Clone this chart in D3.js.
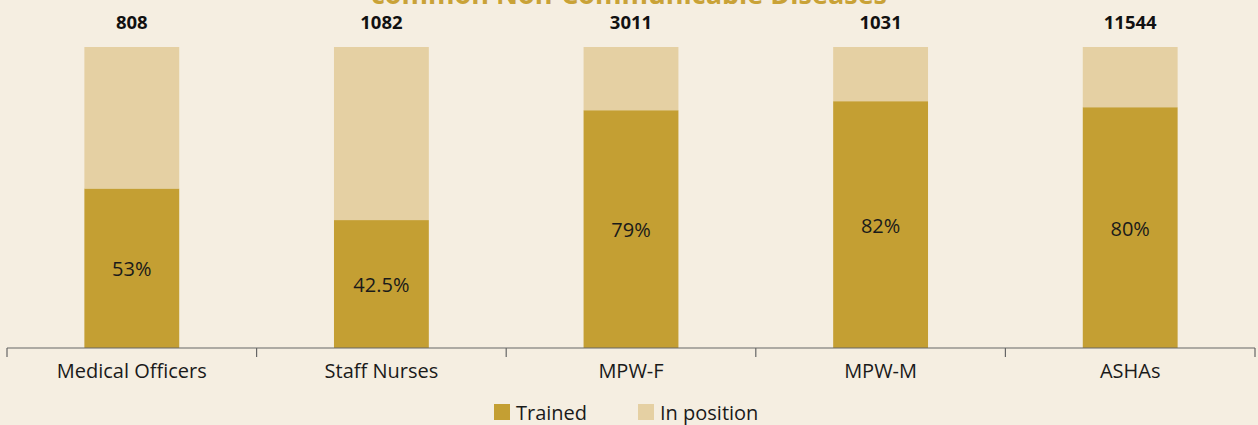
<!DOCTYPE html>
<html>
<head>
<meta charset="utf-8">
<script src="https://cdn.jsdelivr.net/npm/d3@7"></script>
<style>
  html, body { margin: 0; padding: 0; background: #f5eee1; }
  svg { display: block; font-family: "Open Sans", Lato, sans-serif; }
</style>
</head>
<body>
<script>
// data
var categories = ['Medical Officers', 'Staff Nurses', 'MPW-F', 'MPW-M', 'ASHAs'];
var totals = [808, 1082, 3011, 1031, 11544];
var trainedPct = [53, 42.5, 79, 82, 80];
var pctLabels = ['53%', '42.5%', '79%', '82%', '80%'];
var seriesNames = ['Trained', 'In position'];

var colors = { 'Trained': '#c49f33', 'In position': '#e5d0a3' };

var W = 1258, H = 425;
var svg = d3.select('body').append('svg')
    .attr('width', W)
    .attr('height', H);

svg.append('rect').attr('width', W).attr('height', H).attr('fill', '#f5eee1');

// title, mostly cut off at the top (as in the original)
svg.append('text')
    .attr('x', 629)
    .attr('y', 4)
    .attr('text-anchor', 'middle')
    .attr('font-size', 27)
    .attr('font-weight', 'bold')
    .attr('fill', '#c9a237')
    .text('common Non-Communicable Diseases');

var x = d3.scaleBand()
    .domain(categories)
    .range([7, 1255])
    .paddingInner(0.62)
    .paddingOuter(0.31);

var y = d3.scaleLinear()
    .domain([0, 100])
    .range([348, 47]);

var rows = categories.map(function(c, i) {
  return { cat: c, 'Trained': trainedPct[i], 'In position': 100 - trainedPct[i] };
});
var stacked = d3.stack().keys(seriesNames)(rows);

svg.selectAll('g.series')
    .data(stacked)
  .enter().append('g')
    .attr('class', 'series')
    .attr('fill', function(d) { return colors[d.key]; })
  .selectAll('rect')
    .data(function(d) { return d; })
  .enter().append('rect')
    .attr('x', function(d) { return x(d.data.cat); })
    .attr('y', function(d) { return y(d[1]); })
    .attr('width', x.bandwidth())
    .attr('height', function(d) { return y(d[0]) - y(d[1]); });

// percent labels inside trained part
svg.selectAll('text.pct')
    .data(categories)
  .enter().append('text')
    .attr('class', 'pct')
    .attr('x', function(d) { return x(d) + x.bandwidth() / 2; })
    .attr('y', function(d, i) { return (y(0) + y(trainedPct[i])) / 2 + 8; })
    .attr('text-anchor', 'middle')
    .attr('font-size', 20)
    .attr('fill', '#1a1a1a')
    .text(function(d, i) { return pctLabels[i]; });

// totals above bars
svg.selectAll('text.total')
    .data(categories)
  .enter().append('text')
    .attr('class', 'total')
    .attr('x', function(d) { return x(d) + x.bandwidth() / 2; })
    .attr('y', 29)
    .attr('text-anchor', 'middle')
    .attr('font-size', 18.5)
    .attr('font-weight', 'bold')
    .attr('fill', '#111')
    .text(function(d, i) { return totals[i]; });

// x axis with ticks on the band edges
var axisG = svg.append('g').attr('transform', 'translate(0,348)');
axisG.append('line')
    .attr('x1', 7).attr('x2', 1255)
    .attr('stroke', '#666').attr('stroke-width', 1.2);
var step = x.step();
var edges = categories.map(function(c) { return x(c) - x.paddingOuter() * step; });
edges.push(1255);
axisG.selectAll('line.tick')
    .data(edges)
  .enter().append('line')
    .attr('class', 'tick')
    .attr('x1', function(d) { return d; }).attr('x2', function(d) { return d; })
    .attr('y1', 0).attr('y2', 9)
    .attr('stroke', '#666').attr('stroke-width', 1.2);
axisG.selectAll('text')
    .data(categories)
  .enter().append('text')
    .attr('x', function(d) { return x(d) + x.bandwidth() / 2; })
    .attr('y', 30)
    .attr('text-anchor', 'middle')
    .attr('font-size', 20)
    .attr('fill', '#1a1a1a')
    .text(function(d) { return d; });

// legend
var legend = svg.append('g').attr('transform', 'translate(494,404)');
var legendX = [0, 144];
seriesNames.forEach(function(s, i) {
  var g = legend.append('g').attr('transform', 'translate(' + legendX[i] + ',0)');
  g.append('rect').attr('width', 16).attr('height', 16).attr('fill', colors[s]);
  g.append('text')
      .attr('x', 22).attr('y', 16)
      .attr('font-size', 20)
      .attr('fill', '#1a1a1a')
      .text(s);
});
</script>
</body>
</html>
